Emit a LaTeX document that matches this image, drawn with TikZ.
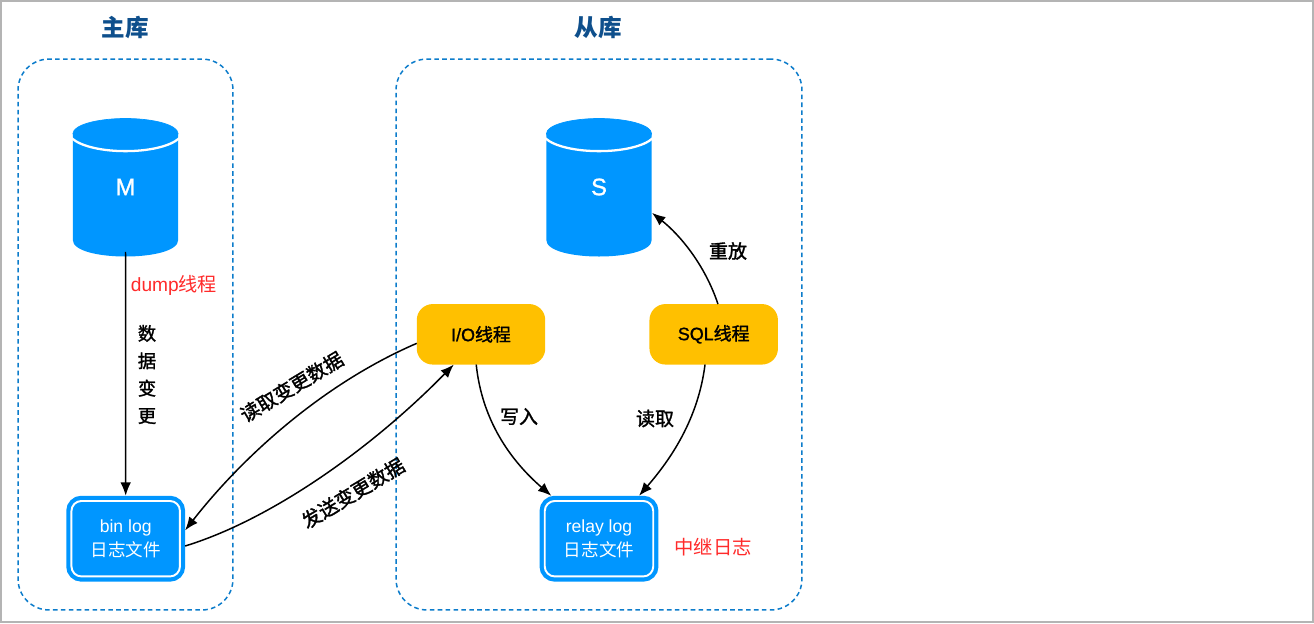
\documentclass[tikz,border=0pt]{standalone}
\usepackage{fontspec}
\setmainfont{Liberation Sans}
\newfontfamily\cjk{Noto Sans CJK SC}
\newfontfamily\cjkmed[FakeBold=1.6]{Noto Sans CJK SC}
\newfontfamily\latinmed[FakeBold=1.2]{Liberation Sans}
\usetikzlibrary{arrows.meta}
\definecolor{dbblue}{HTML}{0096FF}
\definecolor{threadyellow}{HTML}{FFC000}
\definecolor{framegray}{HTML}{B4B4B4}
\definecolor{panelblue}{HTML}{0C7CCB}
\definecolor{titleblue}{HTML}{0E4F8C}
\definecolor{notered}{HTML}{FF2A2A}
\tikzset{
  >={Latex[length=7.6pt,width=6pt]},
  panel/.style={draw=panelblue, line width=0.85pt, dash pattern=on 2.6pt off 1.9pt, rounded corners=0.62cm, minimum height=11.02cm, inner sep=0, outer sep=0},
  title/.style={text=titleblue, font=\fontsize{13.4}{16}\selectfont\cjk\bfseries},
  dbtext/.style={text=white, font=\fontsize{13.5}{15}\selectfont\latinmed, minimum width=2.12cm, minimum height=2.6cm, inner sep=0, outer sep=0},
  logbox/.style={draw=dbblue, fill=dbblue, double=white, double distance=1.1pt, line width=2.4pt, rounded corners=0.2cm, minimum width=2.17cm, minimum height=1.51cm, inner sep=0, outer sep=2.95pt, text=white, align=center, font=\fontsize{10}{13.7}\selectfont},
  thread/.style={fill=threadyellow, rounded corners=0.32cm, minimum width=2.57cm, minimum height=1.21cm, inner sep=0, outer sep=0, font=\fontsize{10.2}{12}\selectfont\latinmed},
  label/.style={font=\fontsize{10.8}{13}\selectfont\cjkmed},
  slanted/.style={font=\fontsize{11}{13}\selectfont\cjkmed, rotate=31},
  note/.style={text=notered, font=\fontsize{10.9}{13}\selectfont},
  link/.style={->, line width=0.85pt}
}
\newcommand{\dbcyl}[3]{
  \fill [dbblue] (#2-52.7, 133) -- (#2+52.7, 133) -- (#2+52.7, 240) .. controls (#2+52.7, 262) and (#2-52.7, 262) .. (#2-52.7, 240) -- cycle;
  \draw [dbblue, fill=dbblue] (#2, 133.5) ellipse [x radius=1.05cm, y radius=0.3cm];
  \draw [white, line width=1.3pt] (#2-54, 138) .. controls (#2-35, 155.5) and (#2+35, 155.5) .. (#2+54, 138);
  \node [dbtext] (#1) at (#2, 187) {#3};
}

\begin{document}
\begin{tikzpicture}[x=0.02cm, y=-0.02cm]
      \useasboundingbox (0, 0) rectangle (1314, 623);
      \draw [framegray, line width=1.1pt] (1, 1) rectangle (1313, 622);

      \node [panel, minimum width=4.3cm] (masterpanel) at (125.5, 334.5) {};
      \node [panel, minimum width=8.12cm] (slavepanel) at (599, 334.5) {};
      \node [title] (mastertitle) at (125.5, 27.5) {主库};
      \node [title] (slavetitle) at (598.5, 27.5) {从库};

      \dbcyl{M}{125.5}{M}
      \dbcyl{S}{599}{S}

      \node [logbox] (binlog) at (125.7, 538.7) {bin log\\{\cjk 日志文件}};
      \node [logbox] (relaylog) at (599, 538.7) {relay log\\{\cjk 日志文件}};
      \node [thread] (io) at (481, 334.3) {I/O{\cjkmed 线程}};
      \node [thread] (sql) at (713.7, 334.3) {SQL{\cjkmed 线程}};

      \draw [link] (M.south) -- (binlog.north);
      \draw [link] (io.188) .. controls (320, 385) and (240, 460) .. (binlog.8);
      \draw [link] (binlog.-7) .. controls (270, 520) and (370, 450) .. (io.-132);
      \draw [link] (io.-99) .. controls (482, 420) and (510, 460) .. (relaylog.138);
      \draw [link] (sql.-106) .. controls (698, 420) and (670, 460) .. (relaylog.47);
      \draw [link] (sql.82) .. controls (705, 265) and (680, 235) .. (S.-26);

      \node [note] (dumpnote) at (174, 285) {dump{\cjk 线程}};
      \node [note, font=\fontsize{11}{13}\selectfont\cjk] (relaynote) at (713, 547) {中继日志};

      \node [label, align=center, font=\fontsize{10.4}{15.6}\selectfont\cjkmed] (changelabel) at (147, 374.5) {数\\据\\变\\更};
      \node [slanted] (readlabel) at (291.7, 386.7) {读取变更数据};
      \node [slanted] (sendlabel) at (353, 493) {发送变更数据};
      \node [label] (writelabel) at (519, 416.5) {写入};
      \node [label] (fetchlabel) at (655, 418.5) {读取};
      \node [label] (replaylabel) at (728, 251) {重放};
    \end{tikzpicture}
\end{document}
